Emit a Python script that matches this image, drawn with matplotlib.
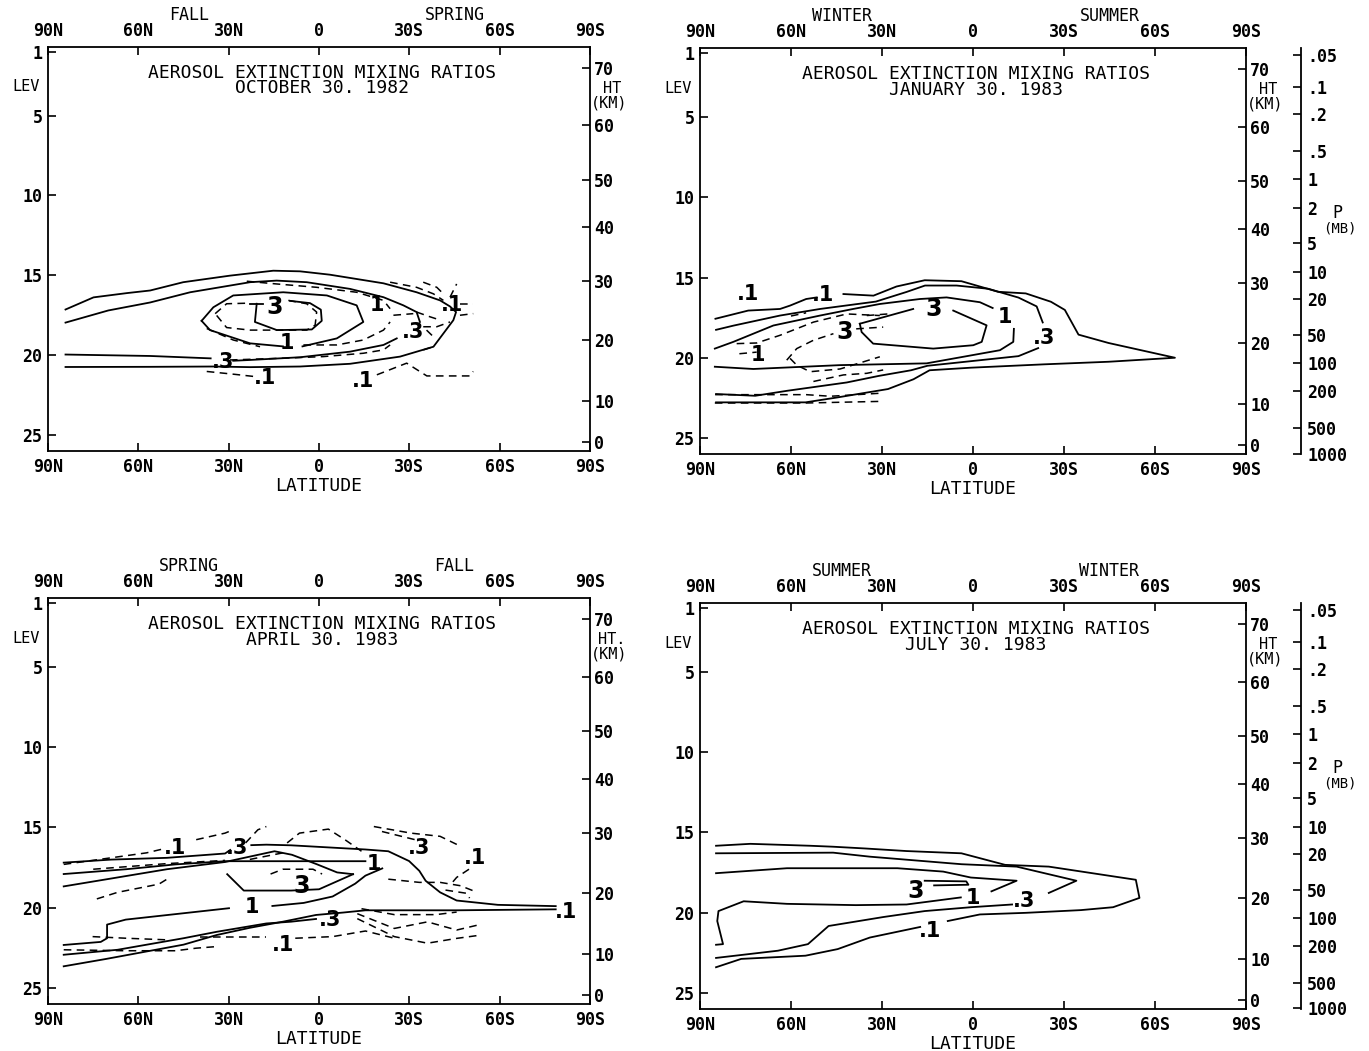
import matplotlib
matplotlib.use("Agg")
import matplotlib.pyplot as plt
from matplotlib.transforms import blended_transform_factory

plt.rcParams['font.family'] = 'DejaVu Sans Mono'

# axis scales
LAT_TICKS = [90, 60, 30, 0, -30, -60, -90]
LAT_LABELS = ["90N", "60N", "30N", "0", "30S", "60S", "90S"]
LEV_TICKS = [1, 5, 10, 15, 20, 25]
HT_LABELS = ["70", "60", "50", "40", "30", "20", "10", "0"]
HT_LEV = [2.0, 5.6, 9.0, 12.0, 15.35, 19.07, 22.88, 25.45]
P_LABELS = [".05", ".1", ".2", ".5", "1", "2", "5", "10", "20", "50",
            "100", "200", "500", "1000"]
P_LEV = [1.14, 3.13, 4.81, 7.12, 8.86, 10.67, 12.85, 14.66, 16.34, 18.58,
         20.33, 22.07, 24.38, 25.97]

# contour traces as (latitude, level); north positive
OCT_SOLID = [
    [(84.2, 17.14), (74.9, 16.38), (63.7, 16.11), (56.1, 15.95), (45.1, 15.43), (29.6, 15.02),
     (15.2, 14.71), (6.3, 14.75), (-3.6, 14.96), (-21.4, 15.5), (-32.4, 16.06), (-40.2, 16.57),
     (-43.5, 16.95), (-45.5, 17.3), (-44.6, 17.81), (-38.0, 19.47), (-26.9, 20.09),
     (-10.3, 20.54), (6.3, 20.71), (22.9, 20.75), (35.1, 20.71), (56.0, 20.73), (84.2, 20.74)],
    [(84.2, 17.96), (70.0, 17.2), (56.1, 16.7), (42.8, 16.06), (22.9, 15.43), (14.1, 15.33),
     (4.1, 15.43), (-10.3, 15.85), (-21.4, 16.37), (-28.0, 16.88), (-32.4, 17.3), (-33.5, 17.92)],
    [(-25.8, 18.95), (-21.4, 19.36), (-10.3, 19.78), (6.3, 20.13), (22.9, 20.3), (28.5, 20.35)],
    [(36.0, 20.2), (56.1, 20.05), (84.2, 19.96)],
    [(39.0, 17.85), (35.1, 17.0), (28.5, 16.26), (11.9, 16.06), (-2.6, 16.26), (-12.5, 16.88),
     (-14.7, 17.92), (-5.9, 18.95), (5.5, 19.45)],
    [(12.0, 19.45), (22.9, 19.26), (36.2, 18.43), (39.0, 17.85)],
    [(23.0, 16.78), (18.5, 16.78)],
    [(20.7, 16.78), (21.3, 17.92), (14.0, 18.43), (2.4, 18.39), (-0.9, 17.85), (-0.6, 17.15),
     (3.0, 16.74), (9.6, 16.6)],
]
OCT_DASHED = [
    [(34.5, 17.4), (30.7, 16.78), (22.9, 16.74)],
    [(10.2, 16.57), (4.1, 16.78), (0.8, 17.3), (1.3, 18.12), (4.1, 18.43), (22.9, 18.43),
     (30.7, 18.27), (34.5, 17.4)],
    [(24.0, 15.37), (14.1, 15.54), (0.8, 15.75), (-12.5, 16.06), (-21.4, 16.57), (-23.6, 17.09)],
    [(37.3, 18.33), (28.5, 19.05), (19.6, 19.47)],
    [(5.2, 19.36), (-5.9, 19.36), (-14.7, 19.05), (-21.4, 18.43), (-23.6, 17.92)],
    [(29.6, 20.3), (11.9, 20.19), (-1.4, 20.09), (-14.7, 19.88), (-21.4, 19.67), (-23.6, 19.36)],
    [(-23.6, 15.43), (-32.4, 15.75), (-38.0, 16.16), (-41.3, 16.57)],
    [(-34.6, 15.43), (-39.1, 15.75), (-41.3, 16.16)],
    [(-43.5, 16.37), (-45.7, 15.54)],
    [(-46.8, 17.5), (-51.2, 17.4)],
    [(-46.8, 16.78), (-51.2, 16.78)],
    [(-24.7, 17.5), (-31.3, 17.4)],
    [(-32.4, 17.3), (-36.9, 17.6), (-40.2, 17.8)],
    [(-34.6, 18.22), (-39.1, 18.22), (-43.5, 17.92)],
    [(-35.7, 18.43), (-38.0, 18.85)],
    [(-34.6, 19.67), (-38.0, 19.47)],
    [(37.3, 21.02), (28.0, 21.2), (21.8, 21.33)],
    [(-19.2, 21.23), (-29.1, 20.5), (-35.8, 21.3), (-50.1, 21.3), (-51.2, 21.02)],
]
OCT_LABELS = [(14.6, 16.99, "3"), (10.8, 19.26, "1"), (-19.2, 16.88, "1"), (-31.3, 18.54, ".3"),
              (-44.1, 16.88, ".1"), (31.8, 20.4, ".3"), (17.9, 21.43, ".1"), (-14.7, 21.64, ".1")]

JAN_SOLID = [
    [(84.9, 17.57), (74.1, 17.06), (63.6, 16.96), (60.3, 16.75), (55.0, 16.34), (51.5, 16.24)],
    [(42.7, 16.03), (32.8, 16.13), (25.2, 15.56), (15.9, 15.17), (3.8, 15.23), (-8.3, 15.89),
     (-17.4, 15.99), (-25.7, 16.51), (-30.3, 17.02), (-34.8, 18.56), (-44.7, 19.08),
     (-66.6, 20.0), (-44.7, 20.25), (-23.5, 20.41), (0.7, 20.62), (14.3, 20.78), (19.6, 21.34),
     (28.0, 21.95), (44.6, 22.47), (55.2, 22.78), (84.7, 22.78)],
    [(84.7, 18.26), (79.0, 18.0), (63.6, 17.37), (50.4, 16.96), (40.0, 16.7), (32.0, 16.5),
     (21.9, 15.9), (15.8, 15.5), (5.4, 15.5), (-5.0, 15.7), (-15.0, 16.25), (-21.0, 16.8),
     (-23.0, 17.8)],
    [(-21.5, 19.4), (-15.0, 19.9), (0.0, 20.2), (15.0, 20.5), (20.4, 20.78), (31.0, 21.13),
     (41.6, 21.54), (61.3, 22.06), (71.8, 22.37), (84.7, 22.26)],
    [(85.1, 19.43), (79.0, 19.01), (65.8, 17.99), (50.4, 17.37), (39.5, 16.96), (30.7, 16.65),
     (17.5, 16.34), (8.7, 16.24), (-2.3, 16.54), (-6.5, 16.9)],
    [(-13.5, 18.2), (-13.3, 19.01), (-8.9, 19.53), (15.3, 20.35), (43.8, 20.46), (72.4, 20.7),
     (85.1, 20.56)],
    [(37.3, 17.88), (19.7, 16.96)],
    [(6.5, 17.06), (-4.5, 17.98), (-2.9, 19.01), (-0.1, 19.22), (13.1, 19.43), (32.9, 19.12),
     (36.7, 18.4), (37.3, 17.88)],
]
JAN_DASHED = [
    [(77.9, 19.12), (71.3, 19.08), (63.6, 18.6), (52.6, 17.78), (41.6, 17.27), (30.7, 17.37)],
    [(77.0, 19.75), (71.3, 19.65)],
    [(61.4, 20.15), (58.1, 19.43), (52.6, 18.91), (46.0, 18.5)],
    [(38.5, 18.2), (29.6, 18.09)],
    [(60.3, 20.04), (58.1, 20.46), (53.7, 20.87), (43.8, 20.7), (30.7, 19.94)],
    [(52.6, 21.48), (42.7, 21.07), (35.0, 20.97), (29.6, 20.76)],
    [(85.0, 22.3), (66.0, 22.3), (55.0, 22.3), (47.0, 22.4), (29.6, 22.2)],
    [(85.1, 22.82), (55.0, 22.82), (30.7, 22.72)],
    [(60.0, 17.4), (55.0, 17.2)],
    [(35.0, 17.37), (28.0, 17.27)],
]
JAN_LABELS = [(74.1, 16.0, ".1"), (49.3, 16.1, ".1"), (13.1, 16.96, "3"), (-10.6, 17.43, "1"),
              (42.2, 18.4, "3"), (-23.5, 18.8, ".3"), (70.8, 19.84, "1")]

APR_SOLID = [
    [(84.8, 17.19), (69.0, 17.0), (50.5, 16.89), (31.2, 16.62), (29.5, 16.4)],
    [(22.5, 16.1), (17.5, 16.07), (9.3, 16.11), (-15.4, 16.37), (-23.0, 16.48), (-29.9, 17.09),
     (-33.3, 17.7), (-35.4, 18.32), (-40.2, 19.04), (-45.7, 19.55), (-59.4, 19.82),
     (-78.6, 19.9)],
    [(-78.6, 20.1), (-45.7, 20.16), (-15.4, 20.16), (-8.0, 20.3), (1.0, 20.45), (12.0, 20.87),
     (23.0, 21.25), (34.0, 21.7), (45.0, 22.3), (71.0, 23.2), (84.8, 23.65)],
    [(84.8, 17.9), (64.0, 17.6), (47.7, 17.3), (31.2, 17.1), (9.3, 17.1), (-15.4, 17.1)],
    [(84.8, 18.67), (69.7, 18.2), (50.5, 17.6), (31.2, 17.15), (14.8, 16.48), (9.0, 16.7),
     (0.6, 17.3), (-6.0, 17.8), (-11.3, 17.91)],
    [(30.5, 17.91), (25.0, 18.93), (9.3, 18.93), (0.0, 18.85), (-11.3, 17.91)],
    [(84.8, 22.32), (72.5, 22.13), (70.4, 21.9), (70.4, 21.05), (64.2, 20.74), (29.9, 20.03)],
    [(15.5, 19.89), (5.1, 19.7), (-4.5, 19.3), (-12.0, 18.5), (-15.4, 18.0), (-21.0, 17.55)],
    [(84.8, 22.93), (66.9, 22.62), (45.0, 21.9), (34.0, 21.5), (17.5, 20.98), (9.3, 20.87),
     (1.0, 20.7)],
]
APR_DASHED = [
    [(73.8, 19.45), (66.9, 19.04), (53.2, 18.53), (50.5, 18.22)],
    [(40.8, 15.76), (31.2, 15.35), (28.5, 15.14)],
    [(24.4, 15.96), (20.3, 15.14), (17.5, 14.94)],
    [(10.6, 15.96), (6.5, 15.35), (-3.1, 15.1), (-8.6, 15.76), (-14.1, 16.48)],
    [(-18.2, 14.94), (-30.5, 15.35), (-40.2, 15.55), (-47.0, 16.17)],
    [(-20.9, 15.25), (-31.9, 15.76)],
    [(-49.8, 17.6), (-45.7, 18.11), (-44.3, 18.42)],
    [(-23.0, 18.22), (-33.3, 18.42), (-40.2, 18.42), (-47.0, 18.63), (-52.5, 19.04)],
    [(-42.0, 18.9), (-49.0, 19.1), (-50.0, 19.4)],
    [(-14.1, 20.06), (-25.0, 20.43), (-38.8, 20.43), (-45.7, 20.27)],
    [(-12.7, 20.37), (-25.0, 21.29), (-36.0, 20.88), (-45.7, 21.39), (-52.5, 21.09)],
    [(-12.7, 20.68), (-25.0, 21.8), (-36.0, 22.21), (-45.7, 21.91), (-53.9, 21.7)],
    [(7.9, 21.9), (-4.5, 21.8), (-15.4, 21.45), (-25.0, 21.9)],
    [(39.5, 21.8), (28.5, 21.8), (17.5, 21.8)],
    [(75.2, 21.8), (64.2, 21.9), (50.5, 22.0)],
    [(84.8, 22.62), (64.2, 22.68), (47.7, 22.68), (40.8, 22.52), (34.0, 22.42)],
    [(84.8, 17.3), (57.3, 16.58), (51.0, 16.3)],
    [(75.0, 17.6), (50.5, 17.25), (31.2, 17.05)],
    [(23.0, 16.99), (12.0, 16.58)],
    [(16.1, 17.9), (12.0, 17.6), (2.0, 17.6), (-1.0, 17.9)],
]
APR_LABELS = [(47.7, 16.3, ".1"), (27.1, 16.25, ".3"), (5.8, 18.63, "3"), (22.3, 19.96, "1"),
              (-18.2, 17.3, "1"), (-33.3, 16.27, ".3"), (-51.8, 16.89, ".1"),
              (-82.0, 20.27, ".1"), (-3.8, 20.78, ".3"), (12.0, 22.32, ".1")]

JUL_SOLID = [
    [(84.7, 15.83), (73.4, 15.71), (53.7, 15.83), (46.1, 15.89), (35.5, 16.0), (21.9, 16.16),
     (3.8, 16.3), (-10.6, 17.02), (-25.0, 17.13), (-53.7, 17.95), (-54.9, 19.08),
     (-46.2, 19.66), (-35.6, 19.84), (-17.4, 20.01), (-2.3, 20.11), (8.3, 20.52)],
    [(17.4, 20.89), (34.0, 21.55), (44.6, 22.27), (55.2, 22.68), (76.4, 22.88), (84.7, 23.4)],
    [(84.7, 16.3), (46.1, 16.26), (34.0, 16.51), (3.8, 16.98), (-14.4, 17.13), (-34.1, 18.01),
     (-25.0, 18.77)],
    [(-12.9, 19.49), (0.7, 19.66), (15.9, 19.9), (29.5, 20.27), (47.6, 20.83), (54.4, 21.96),
     (64.3, 22.37), (84.7, 22.82)],
    [(84.7, 17.54), (61.3, 17.23), (24.9, 17.23), (9.8, 17.44), (0.7, 17.81), (-14.4, 18.01),
     (-6.1, 18.67)],
    [(4.0, 19.05), (21.9, 19.49), (38.6, 19.53), (61.3, 19.45), (75.6, 19.29), (83.9, 19.9),
     (84.3, 20.52), (82.4, 21.96), (84.7, 22.0)],
    [(15.9, 18.01), (2.2, 18.05), (1.5, 18.26), (12.8, 18.3)],
]
JUL_DASHED = []
JUL_LABELS = [(18.9, 18.67, "3"), (0.0, 19.08, "1"), (-16.7, 19.29, ".3"), (14.3, 21.14, ".1")]

fig = plt.figure(figsize=(13.69, 10.51), dpi=100)


def panel(rect, solid, dashed, labels, date, seasons, ht_text, pressure):
    ax = fig.add_axes(rect)
    for line in solid:
        lat, lev = zip(*line)
        ax.plot(lat, lev, color='black', lw=1.3)
    for line in dashed:
        lat, lev = zip(*line)
        ax.plot(lat, lev, color='black', lw=1.1, linestyle=(0, (5, 3.5)))
    for lat, lev, s in labels:
        ax.text(lat, lev, s, ha='center', va='center', family='DejaVu Sans',
                fontsize=17 if s == "3" else 15, fontweight='bold')

    ax.set_xlim(90, -90)
    ax.set_ylim(26, 0.7)
    ax.set_xticks(LAT_TICKS)
    ax.set_xticklabels(LAT_LABELS, fontsize=12, fontweight='bold')
    ax.set_yticks(LEV_TICKS)
    ax.set_yticklabels([str(v) for v in LEV_TICKS], fontsize=12, fontweight='bold')
    for sp in ax.spines.values():
        sp.set_linewidth(1.3)

    # height scale
    axh = ax.twinx()
    axh.set_ylim(26, 0.7)
    axh.set_yticks(HT_LEV)
    axh.set_yticklabels(HT_LABELS, fontsize=12, fontweight='bold')
    axh.tick_params(axis='y', direction='in', length=6, width=1.2, pad=3)
    for s in ['left', 'top', 'bottom', 'right']:
        axh.spines[s].set_visible(False)

    ax.tick_params(axis='x', top=True, labeltop=True, direction='in', length=6, width=1.2, pad=5)
    ax.tick_params(axis='y', left=True, right=False, direction='in', length=6, width=1.2, pad=4)
    ax.set_xlabel('LATITUDE', fontsize=13, labelpad=1)

    trans = blended_transform_factory(ax.transAxes, ax.transData)
    ax.text(0.505, 2.3, 'AEROSOL EXTINCTION MIXING RATIOS', transform=trans,
            ha='center', va='center', fontsize=13)
    ax.text(0.505, 3.3, date, transform=trans, ha='center', va='center', fontsize=13)
    ax.text(-0.04, 3.2, 'LEV', transform=trans, ha='center', va='center', fontsize=11)
    ax.text(1.04, 3.27, ht_text, transform=trans, ha='center', va='center', fontsize=11)
    ax.text(1.035, 4.2, '(KM)', transform=trans, ha='center', va='center', fontsize=11)
    ax.text(0.26, 1.079, seasons[0], transform=ax.transAxes, ha='center', va='center', fontsize=12)
    ax.text(0.75, 1.079, seasons[1], transform=ax.transAxes, ha='center', va='center', fontsize=12)

    if pressure:
        axp = ax.twinx()
        axp.set_ylim(26, 0.7)
        axp.spines['right'].set_position(('outward', 40))
        axp.spines['right'].set_linewidth(1.3)
        for s in ['left', 'top', 'bottom']:
            axp.spines[s].set_visible(False)
        axp.set_yticks(P_LEV)
        axp.set_yticklabels(P_LABELS, fontsize=12, fontweight='bold')
        axp.tick_params(axis='y', direction='in', length=6, width=1.2, pad=4)
        ax.text(1.168, 11.0, 'P', transform=trans, ha='center', va='center', fontsize=12)
        ax.text(1.172, 11.95, '(MB)', transform=trans, ha='center', va='center', fontsize=10)
    return ax


panel([0.0351, 0.5709, 0.3959, 0.3844], OCT_SOLID, OCT_DASHED, OCT_LABELS,
      'OCTOBER 30. 1982', ('FALL', 'SPRING'), 'HT', False)
panel([0.5113, 0.5680, 0.3988, 0.3863], JAN_SOLID, JAN_DASHED, JAN_LABELS,
      'JANUARY 30. 1983', ('WINTER', 'SUMMER'), 'HT', True)
panel([0.0351, 0.0447, 0.3959, 0.3863], APR_SOLID, APR_DASHED, APR_LABELS,
      'APRIL 30. 1983', ('SPRING', 'FALL'), 'HT.', False)
panel([0.5113, 0.0400, 0.3988, 0.3863], JUL_SOLID, JUL_DASHED, JUL_LABELS,
      'JULY 30. 1983', ('SUMMER', 'WINTER'), 'HT', True)

fig.savefig('out.png', dpi=100)
